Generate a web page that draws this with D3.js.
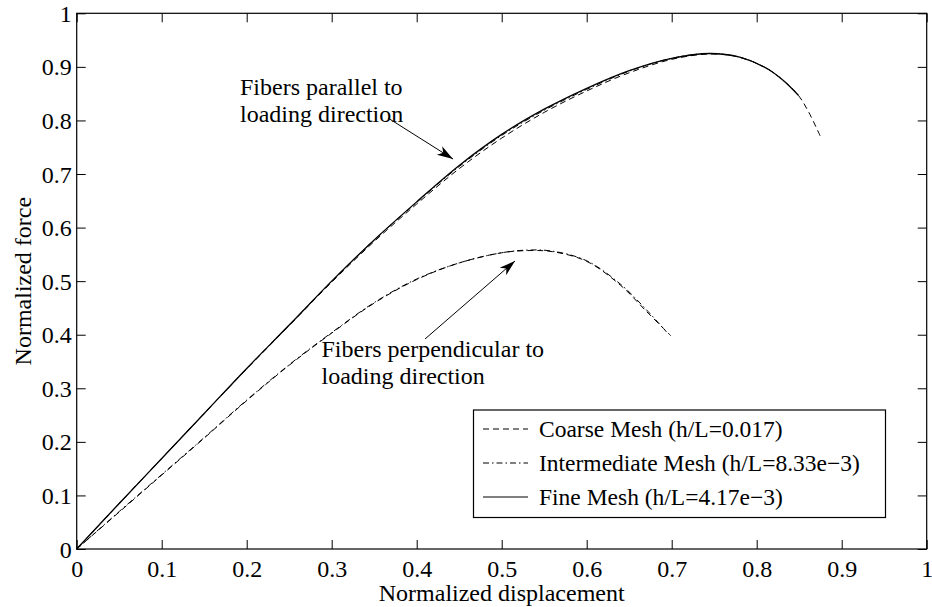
<!DOCTYPE html>
<html>
<head>
<meta charset="utf-8">
<script src="https://cdn.jsdelivr.net/npm/d3@7"></script>
<style>
  body { margin: 0; background: #fff; }
  svg text { font-family: "Liberation Serif", "Times New Roman", Times, "Nimbus Roman", "DejaVu Serif", serif; fill: #000; }
  .tick-label { font-size: 24px; }
  .lbl { font-size: 24px; }
  .legend-text { font-size: 23.5px; }
  .curve { fill: none; stroke: #000; }
</style>
</head>
<body>
<div id="chart"></div>
<script>
var widthGlobal = 932,
    heightGlobal = 607,
    margin = {top: 13.3, right: 5.3, bottom: 58, left: 76.7},
    width = widthGlobal - margin.left - margin.right,
    height = heightGlobal - margin.top - margin.bottom,
    serif = "'Liberation Serif', 'Times New Roman', Times, 'Nimbus Roman', 'DejaVu Serif', serif";

// tick values and labels
var xTicks = [0, 0.1, 0.2, 0.3, 0.4, 0.5, 0.6, 0.7, 0.8, 0.9, 1],
    xTickLabels = ["0", "0.1", "0.2", "0.3", "0.4", "0.5", "0.6", "0.7", "0.8", "0.9", "1"],
    yTicks = [0, 0.1, 0.2, 0.3, 0.4, 0.5, 0.6, 0.7, 0.8, 0.9, 1],
    yTickLabels = ["0", "0.1", "0.2", "0.3", "0.4", "0.5", "0.6", "0.7", "0.8", "0.9", "1"];

// fibers parallel to loading direction
var parFine = [
    [0, 0], [0.05, 0.085], [0.1, 0.169], [0.15, 0.253], [0.2, 0.337], [0.25, 0.418],
    [0.3, 0.5], [0.35, 0.577], [0.4, 0.648], [0.45, 0.716], [0.5, 0.774], [0.55, 0.821],
    [0.6, 0.86], [0.65, 0.893], [0.7, 0.916], [0.745, 0.925], [0.78, 0.918],
    [0.812, 0.897], [0.831, 0.875], [0.849, 0.847]
];
var parInter = [
    [0, 0], [0.05, 0.085], [0.1, 0.169], [0.15, 0.253], [0.2, 0.337], [0.25, 0.418],
    [0.3, 0.5], [0.35, 0.577], [0.4, 0.647], [0.45, 0.714], [0.5, 0.772], [0.55, 0.819],
    [0.6, 0.858], [0.65, 0.892], [0.7, 0.916], [0.745, 0.925], [0.78, 0.918],
    [0.812, 0.897], [0.831, 0.875], [0.849, 0.847]
];
var parCoarse = [
    [0, 0], [0.05, 0.085], [0.1, 0.169], [0.15, 0.253], [0.2, 0.336], [0.25, 0.417],
    [0.3, 0.498], [0.35, 0.574], [0.4, 0.644], [0.45, 0.71], [0.5, 0.767], [0.55, 0.815],
    [0.6, 0.855], [0.65, 0.889], [0.7, 0.914], [0.745, 0.924], [0.78, 0.918],
    [0.812, 0.897], [0.831, 0.875], [0.849, 0.847], [0.861, 0.816], [0.875, 0.77]
];

// fibers perpendicular to loading direction
var perpInter = [
    [0, 0], [0.05, 0.07], [0.1, 0.139], [0.15, 0.208], [0.2, 0.278], [0.25, 0.344],
    [0.3, 0.404], [0.35, 0.46], [0.4, 0.504], [0.45, 0.534], [0.5, 0.553], [0.53, 0.558],
    [0.56, 0.556], [0.6, 0.538], [0.64, 0.494], [0.67, 0.447], [0.694, 0.405]
];
var perpCoarse = [
    [0, 0], [0.05, 0.069], [0.1, 0.138], [0.15, 0.207], [0.2, 0.277], [0.25, 0.343],
    [0.3, 0.403], [0.35, 0.459], [0.4, 0.503], [0.45, 0.534], [0.5, 0.553], [0.53, 0.557],
    [0.56, 0.555], [0.6, 0.537], [0.64, 0.492], [0.67, 0.444], [0.699, 0.398]
];

var legendItems = [
    {label: "Coarse Mesh (h/L=0.017)", dash: "6,4"},
    {label: "Intermediate Mesh (h/L=8.33e\u22123)", dash: "6,3,1.5,3"},
    {label: "Fine Mesh (h/L=4.17e\u22123)", dash: null}
];

var x = d3.scaleLinear().domain([0, 1]).range([0, width]),
    y = d3.scaleLinear().domain([0, 1]).range([height, 0]);

var svg = d3.select("#chart").append("svg")
    .attr("width", widthGlobal)
    .attr("height", heightGlobal)
    .attr("font-family", serif);

var defs = svg.append("defs");
defs.append("marker")
    .attr("id", "head")
    .attr("viewBox", "-17 -6 19 12")
    .attr("refX", 0).attr("refY", 0)
    .attr("markerWidth", 19).attr("markerHeight", 12)
    .attr("markerUnits", "userSpaceOnUse")
    .attr("orient", "auto")
    .append("path")
    .attr("d", "M0,0 L-16,-5 L-11.5,0 L-16,5 Z")
    .attr("fill", "#000");

var g = svg.append("g")
    .attr("transform", "translate(" + margin.left + "," + margin.top + ")");

// axes with inward ticks on all four sides
function fmt(labels, ticks) {
    return function (d) { return labels[ticks.indexOf(d)]; };
}
var xAxisB = g.append("g")
    .attr("transform", "translate(0," + height + ")")
    .call(d3.axisBottom(x).tickValues(xTicks).tickSize(-9).tickPadding(0).tickFormat(fmt(xTickLabels, xTicks)));
var xAxisT = g.append("g")
    .call(d3.axisTop(x).tickValues(xTicks).tickSize(-9).tickFormat(""));
var yAxisL = g.append("g")
    .call(d3.axisLeft(y).tickValues(yTicks).tickSize(-9).tickPadding(0).tickFormat(fmt(yTickLabels, yTicks)));
var yAxisR = g.append("g")
    .attr("transform", "translate(" + width + ",0)")
    .call(d3.axisRight(y).tickValues(yTicks).tickSize(-9).tickFormat(""));

[xAxisB, xAxisT, yAxisL, yAxisR].forEach(function (a) {
    a.attr("font-family", serif).attr("font-size", 24);
    a.select(".domain").remove();
    a.selectAll(".tick line").attr("stroke", "#000").attr("stroke-width", 1);
    a.selectAll(".tick text").attr("class", "tick-label");
});
xAxisB.selectAll(".tick text").attr("dy", null).attr("y", 28);
yAxisL.selectAll(".tick text").attr("dy", null).attr("x", -5).attr("y", 8);

g.append("rect")
    .attr("x", 0).attr("y", 0)
    .attr("width", width).attr("height", height)
    .attr("fill", "none").attr("stroke", "#000").attr("stroke-width", 1.2);

// curves
var line = d3.line()
    .x(function (d) { return x(d[0]); })
    .y(function (d) { return y(d[1]); })
    .curve(d3.curveCatmullRom.alpha(0.5));

var curves = [
    {data: parCoarse, dash: "6,4", w: 1},
    {data: parInter, dash: "6,3,1.5,3", w: 1},
    {data: parFine, dash: null, w: 1.3},
    {data: perpCoarse, dash: "6,4", w: 1},
    {data: perpInter, dash: "6,3,1.5,3", w: 1}
];
g.selectAll(".curve")
    .data(curves)
    .enter().append("path")
    .attr("class", "curve")
    .attr("d", function (d) { return line(d.data); })
    .attr("stroke-width", function (d) { return d.w; })
    .attr("stroke-dasharray", function (d) { return d.dash; });

// annotations
svg.append("text").attr("class", "lbl").attr("x", 240).attr("y", 94.5).text("Fibers parallel to");
svg.append("text").attr("class", "lbl").attr("x", 240).attr("y", 122).text("loading direction");
svg.append("line")
    .attr("x1", 388).attr("y1", 118).attr("x2", 453).attr("y2", 159)
    .attr("stroke", "#000").attr("stroke-width", 1)
    .attr("marker-end", "url(#head)");

svg.append("text").attr("class", "lbl").attr("x", 321.5).attr("y", 356.5).text("Fibers perpendicular to");
svg.append("text").attr("class", "lbl").attr("x", 321.5).attr("y", 384).text("loading direction");
svg.append("line")
    .attr("x1", 425).attr("y1", 339).attr("x2", 515).attr("y2", 261)
    .attr("stroke", "#000").attr("stroke-width", 1)
    .attr("marker-end", "url(#head)");

// axis titles
svg.append("text").attr("class", "lbl")
    .attr("text-anchor", "middle")
    .attr("x", margin.left + width / 2).attr("y", 601)
    .text("Normalized displacement");
svg.append("text").attr("class", "lbl")
    .attr("text-anchor", "middle")
    .attr("transform", "translate(31," + (margin.top + height / 2) + ") rotate(-90)")
    .text("Normalized force");

// legend
var legend = svg.append("g");
legend.append("rect")
    .attr("x", 473.5).attr("y", 410)
    .attr("width", 412).attr("height", 107.5)
    .attr("fill", "#fff").attr("stroke", "#000").attr("stroke-width", 1.2);
var rows = legend.selectAll(".row")
    .data(legendItems)
    .enter().append("g")
    .attr("transform", function (d, i) { return "translate(0," + (437 + i * 34) + ")"; });
rows.append("line")
    .attr("x1", 483).attr("x2", 528)
    .attr("y1", -8).attr("y2", -8)
    .attr("stroke", "#000").attr("stroke-width", 1)
    .attr("stroke-dasharray", function (d) { return d.dash; });
rows.append("text")
    .attr("class", "legend-text")
    .attr("x", 539).attr("y", 0)
    .text(function (d) { return d.label; });
</script>
</body>
</html>
